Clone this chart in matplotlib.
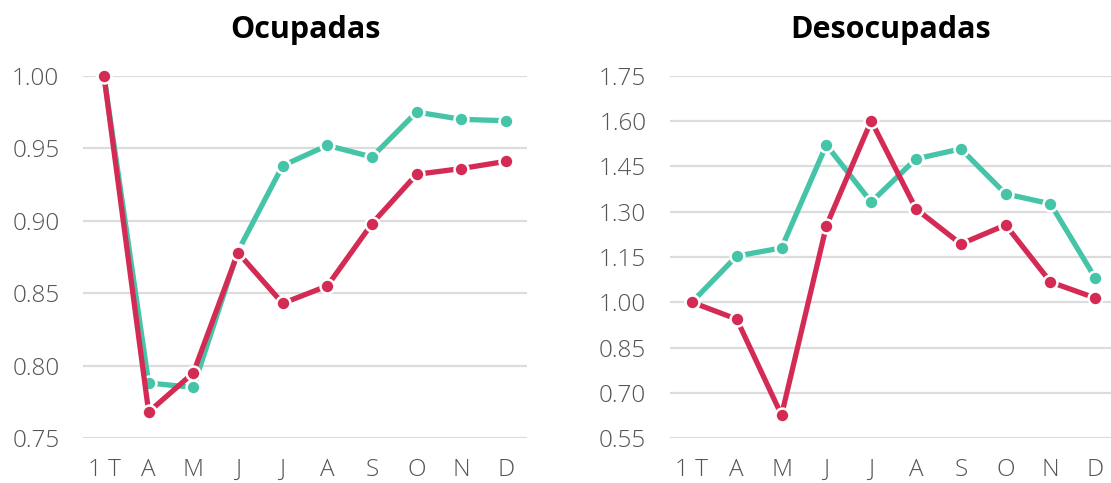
import matplotlib
matplotlib.use("Agg")
import matplotlib.pyplot as plt

months = ["1T", "A", "M", "J", "J", "A", "S", "O", "N", "D"]

ocup_green = [1.000, 0.788, 0.785, 0.879, 0.938, 0.952, 0.944, 0.975, 0.970, 0.969]
ocup_red = [1.000, 0.768, 0.795, 0.878, 0.843, 0.855, 0.898, 0.932, 0.936, 0.941]

desoc_green = [1.000, 1.153, 1.180, 1.521, 1.332, 1.475, 1.508, 1.359, 1.326, 1.080]
desoc_red = [1.000, 0.944, 0.626, 1.253, 1.601, 1.309, 1.193, 1.256, 1.067, 1.014]

ocup_ticks = [0.75, 0.80, 0.85, 0.90, 0.95, 1.00]
desoc_ticks = [0.55, 0.70, 0.85, 1.00, 1.15, 1.30, 1.45, 1.60, 1.75]

GREEN = "#45c4a8"
RED = "#d42b55"
FONT = ["Open Sans", "DejaVu Sans"]

plt.rcParams["font.family"] = FONT

fig = plt.figure(figsize=(11.11, 4.83), dpi=100)
ax1 = fig.add_axes([0.0747, 0.093, 0.3996, 0.750])
ax2 = fig.add_axes([0.603, 0.093, 0.397, 0.750])


def draw(ax, green, red, ticks, title, xlim):
    x = list(range(len(months)))
    for ys, c in [(green, GREEN), (red, RED)]:
        ax.plot(x, ys, color=c, lw=3.8, marker="o", ms=10,
                mfc=c, mec="white", mew=1.8, clip_on=False, zorder=3)
    ax.set_ylim(ticks[0], ticks[-1])
    ax.set_yticks(ticks)
    ax.set_yticklabels([f"{t:.2f}" for t in ticks], fontweight="light")
    ax.set_xlim(*xlim)
    ax.set_xticks(x)
    ax.set_xticklabels(["1 T" if m == "1T" else m for m in months],
                       fontweight="light")
    ax.grid(axis="y", color="#dcdcdc", lw=1.6)
    ax.set_axisbelow(True)
    for s in ax.spines.values():
        s.set_visible(False)
    ax.tick_params(length=0, labelsize=17.5, labelcolor="#555555", pad=14)
    ax.tick_params(axis="y", pad=17)
    ax.set_title(title, fontsize=22, fontweight="bold", pad=27)


draw(ax1, ocup_green, ocup_red, ocup_ticks, "Ocupadas", (-0.47, 9.47))
draw(ax2, desoc_green, desoc_red, desoc_ticks, "Desocupadas", (-0.49, 9.35))

fig.savefig("out.png", dpi=100)
